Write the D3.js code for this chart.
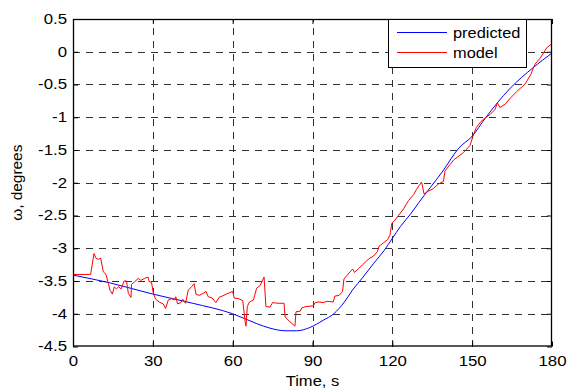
<!DOCTYPE html>
<html>
<head>
<meta charset="utf-8">
<script src="https://cdn.jsdelivr.net/npm/d3@7"></script>
<style>
  body { margin: 0; background: #fff; }
  text { font-family: "Liberation Sans", Arial, sans-serif; font-size: 14px; fill: #000; }
</style>
</head>
<body>
<svg id="chart" width="571" height="390"></svg>
<script>
// predicted (blue) curve
var tPredicted = [0, 14, 30, 45, 60, 69, 74, 80, 84, 89, 94, 98, 102, 105, 109, 113, 117, 120, 123, 127, 130, 139, 145, 150, 155, 164, 173, 180];
var predicted = [-3.41, -3.53, -3.70, -3.84, -4.00, -4.15, -4.22, -4.26, -4.26, -4.21, -4.10, -4.00, -3.82, -3.64, -3.44, -3.23, -3.03, -2.85, -2.67, -2.47, -2.30, -1.82, -1.47, -1.29, -1.01, -0.57, -0.24, -0.02];

// model (red) curve
var tModel = [0, 6.6, 7.9, 8.6, 9.5, 10.4, 11.4, 12.4, 13.3, 13.9, 14.8, 15.5, 16.3, 17.1, 18.1, 19.2, 20.1, 20.8, 21.8, 22.0, 23.2, 24.5, 25.5, 26.9, 28.2, 28.6, 29.5, 30.2, 31.1, 32.4, 33.9, 34.8, 35.8, 37.1, 38.0, 38.6, 39.3, 40.5, 41.3, 42.3, 43.3, 44.5, 45.5, 46.2, 47.4, 48.9, 50.0, 50.8, 52.3, 53.7, 54.9, 56.1, 57.6, 58.7, 60.0, 60.6, 62.2, 63.8, 64.6, 65.0, 65.5, 66.3, 67.8, 69.0, 70.3, 71.8, 72.5, 74.0, 75.0, 77.1, 79.3, 79.7, 81.5, 83.4, 83.8, 85.4, 86.0, 87.5, 90.3, 91.0, 92.5, 94.0, 95.4, 97.8, 98.4, 100.0, 101.3, 101.8, 103.1, 104.1, 105.1, 105.8, 107.3, 108.9, 110.4, 111.6, 112.9, 114.4, 115.0, 116.6, 118.2, 119.1, 119.8, 121.0, 122.3, 124.2, 126.1, 128.0, 129.1, 130.1, 131.0, 131.9, 133.5, 135.4, 137.3, 139.2, 139.8, 141.7, 143.1, 146.7, 149.2, 150.2, 151.5, 153.2, 154.8, 156.7, 158.6, 159.5, 160.4, 162.4, 164.3, 166.7, 169.9, 172.0, 173.6, 175.5, 176.8, 178.0, 179.9];
var model = [-3.40, -3.40, -3.08, -3.15, -3.17, -3.15, -3.36, -3.40, -3.54, -3.64, -3.70, -3.59, -3.62, -3.59, -3.62, -3.50, -3.50, -3.69, -3.75, -3.55, -3.51, -3.46, -3.49, -3.46, -3.44, -3.51, -3.52, -3.69, -3.78, -3.82, -3.85, -3.92, -3.79, -3.77, -3.79, -3.74, -3.85, -3.83, -3.78, -3.84, -3.64, -3.59, -3.54, -3.70, -3.72, -3.69, -3.66, -3.74, -3.76, -3.83, -3.75, -3.73, -3.70, -3.68, -3.66, -3.76, -3.77, -3.80, -4.10, -4.19, -3.89, -3.82, -3.79, -3.61, -3.57, -3.44, -3.89, -3.90, -3.83, -3.84, -3.84, -4.05, -4.12, -4.19, -3.97, -3.96, -3.91, -3.89, -3.88, -3.83, -3.82, -3.83, -3.81, -3.82, -3.73, -3.72, -3.66, -3.47, -3.41, -3.36, -3.32, -3.37, -3.31, -3.25, -3.19, -3.15, -3.12, -3.05, -2.97, -2.92, -2.87, -2.80, -2.62, -2.57, -2.50, -2.40, -2.27, -2.18, -2.10, -2.04, -1.99, -2.17, -2.13, -2.09, -2.02, -1.98, -1.82, -1.72, -1.65, -1.54, -1.43, -1.30, -1.16, -1.07, -1.01, -0.96, -0.88, -0.78, -0.85, -0.80, -0.71, -0.61, -0.49, -0.35, -0.19, -0.10, -0.02, 0.06, 0.12];

var xTicks = [0, 30, 60, 90, 120, 150, 180];
var yTicks = [0.5, 0, -0.5, -1, -1.5, -2, -2.5, -3, -3.5, -4, -4.5];
var seriesNames = ["predicted", "model"];
var seriesColors = ["#0000ff", "#ff0000"];

(function() {
var svg = d3.select("#chart");
var x0 = 73, x1 = 552, y0 = 19, y1 = 346.5;

var x = d3.scaleLinear().domain([0, 180]).range([x0, x1]);
var y = d3.scaleLinear().domain([-4.5, 0.5]).range([y1, y0]);

// widen text a bit, the original font runs wider than Arial
function widen(sel, k) {
    sel.each(function() {
        var w = this.getComputedTextLength();
        d3.select(this).attr("textLength", w * k).attr("lengthAdjust", "spacingAndGlyphs");
    });
}

svg.append("rect").attr("x", 0).attr("y", 0).attr("width", 571).attr("height", 390).attr("fill", "#fff");

// grid
var grid = svg.append("g")
    .attr("stroke", "#333")
    .attr("stroke-width", 1)
    .attr("stroke-dasharray", "7,6")
    .attr("shape-rendering", "crispEdges");
grid.selectAll(".gx").data(xTicks.slice(1, -1)).enter().append("line")
    .attr("x1", function(d) { return Math.round(x(d)) + 0.5; })
    .attr("x2", function(d) { return Math.round(x(d)) + 0.5; })
    .attr("y1", y1).attr("y2", y0);
grid.selectAll(".gy").data(yTicks.slice(1, -1)).enter().append("line")
    .attr("y1", function(d) { return Math.round(y(d)) + 0.5; })
    .attr("y2", function(d) { return Math.round(y(d)) + 0.5; })
    .attr("x1", x0).attr("x2", x1);

// series
var line = d3.line()
    .x(function(d) { return x(d[0]); })
    .y(function(d) { return y(d[1]); });

svg.append("path")
    .datum(d3.zip(tPredicted, predicted))
    .attr("d", line.curve(d3.curveMonotoneX))
    .attr("fill", "none")
    .attr("stroke", seriesColors[0])
    .attr("stroke-width", 1);

svg.append("path")
    .datum(d3.zip(tModel, model))
    .attr("d", line.curve(d3.curveLinear))
    .attr("fill", "none")
    .attr("stroke", seriesColors[1])
    .attr("stroke-width", 1);

// axes: box with inward ticks on all four sides
var tl = 5;
svg.append("g").attr("transform", "translate(0," + y1 + ")")
    .call(d3.axisBottom(x).tickValues(xTicks).tickSize(-tl).tickPadding(10).tickFormat(d3.format("d")));
svg.append("g").attr("transform", "translate(0," + y0 + ")")
    .call(d3.axisTop(x).tickValues(xTicks).tickSize(-tl).tickFormat(""));
svg.append("g").attr("transform", "translate(" + x0 + ",0)")
    .call(d3.axisLeft(y).tickValues(yTicks).tickSize(-tl).tickPadding(6).tickFormat(function(d) { return String(d); }));
svg.append("g").attr("transform", "translate(" + x1 + ",0)")
    .call(d3.axisRight(y).tickValues(yTicks).tickSize(-tl).tickFormat(""));

svg.selectAll(".domain").remove();
svg.selectAll(".tick line").attr("stroke", "#000");
svg.selectAll(".tick text")
    .attr("font-family", "Liberation Sans, Arial, sans-serif")
    .attr("font-size", 14)
    .attr("fill", "#000");

svg.append("rect")
    .attr("x", x0 + 0.5).attr("y", y0 + 0.5)
    .attr("width", x1 - x0 - 1).attr("height", y1 - y0 - 1)
    .attr("fill", "none").attr("stroke", "#000").attr("stroke-width", 1.3);

widen(svg.selectAll(".tick text"), 1.2);

// axis labels
var xl = svg.append("text")
    .attr("x", (x0 + x1) / 2).attr("y", 386)
    .attr("text-anchor", "middle")
    .text("Time, s");
widen(xl, 1.18);

var yl = svg.append("text")
    .attr("transform", "translate(22," + (y0 + y1) / 2 + ") rotate(-90)")
    .attr("text-anchor", "middle")
    .text("ω, degrees");
widen(yl, 1.1);

// legend
var lg = svg.append("g");
lg.append("rect")
    .attr("x", 388.5).attr("y", 19.5).attr("width", 138).attr("height", 48)
    .attr("fill", "#fff").attr("stroke", "#000").attr("stroke-width", 1);
var item = lg.selectAll(".item").data(seriesNames).enter().append("g")
    .attr("transform", function(d, i) { return "translate(0," + (32.5 + i * 20) + ")"; });
item.append("line")
    .attr("x1", 397).attr("x2", 447).attr("y1", 0).attr("y2", 0)
    .attr("stroke", function(d, i) { return seriesColors[i]; });
var lt = item.append("text")
    .attr("x", 453).attr("y", 5)
    .text(function(d) { return d; });
widen(lt, 1.17);
})();
</script>
</body>
</html>
